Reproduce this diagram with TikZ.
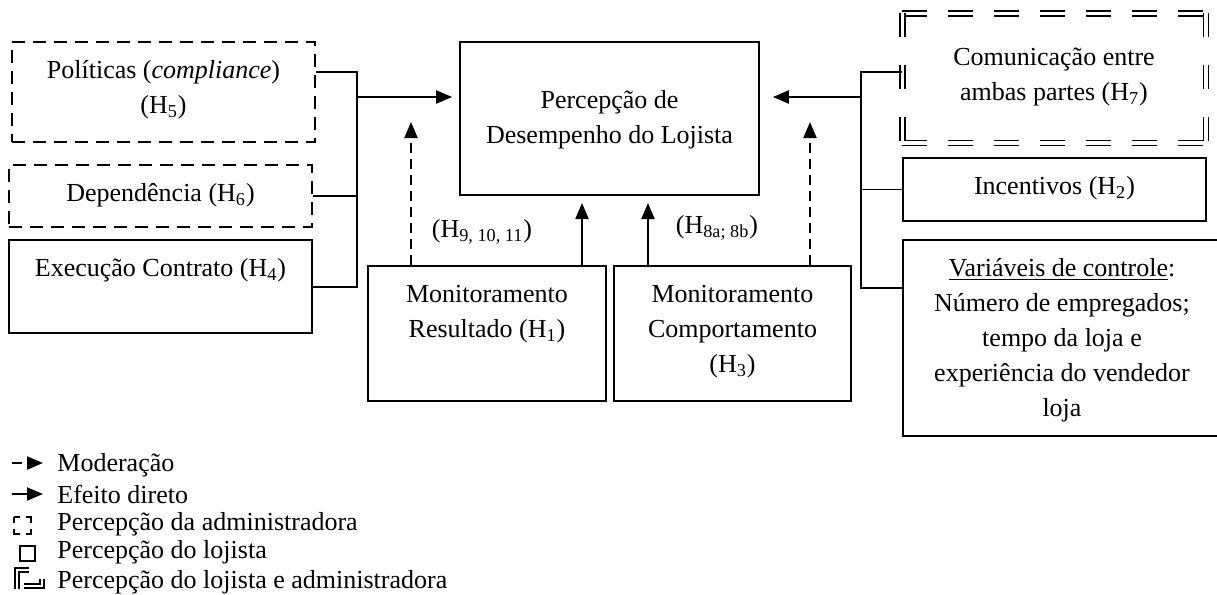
\documentclass[tikz,border=0pt]{standalone}
\usepackage{fontspec}
\setmainfont{Liberation Serif}
\usetikzlibrary{positioning, arrows.meta, fit}

\begin{document}
\begin{tikzpicture}[
    x=0.5pt, y=-0.5pt,
    font=\fontsize{13}{17.5}\selectfont,
    box/.style={rectangle, draw, line width=0.8pt, inner sep=0pt, align=center},
    admbox/.style={box, dash pattern=on 6.5pt off 4pt},
    bothline/.style={double, double distance=1.7pt, line width=0.8pt},
    toptext/.style={anchor=north, align=center, inner sep=0pt, yshift=-6.25pt},
    arrow/.style={-{Triangle[length=8pt, width=6.5pt]}, line width=1pt},
    modarrow/.style={arrow, dash pattern=on 5pt off 3pt},
    link/.style={line width=0.75pt},
    legend/.style={anchor=base west, inner sep=0pt}
]
\useasboundingbox (0,0) rectangle (1217,595);

\node[admbox, fit={(12,42) (315,142)}, label={[toptext]north:{\strut Políticas (\textit{compliance})\\(H\textsubscript{5})}}] (pol) {};
\node[admbox, fit={(9,165) (312,227)}, label={[toptext]north:{\strut Dependência (H\textsubscript{6})}}] (dep) {};
\node[box, fit={(9,240) (312,333)}, label={[toptext]north:{\strut Execução Contrato (H\textsubscript{4})}}] (exe) {};
\node[box, fit={(460,42) (759,195)}, label={[toptext, yshift=-15pt]north:{\strut Percepção de\\Desempenho do Lojista}}] (perc) {};
\node[box, fit={(368,266) (606,401)}, label={[toptext]north:{\strut Monitoramento\\Resultado (H\textsubscript{1})}}] (res) {};
\node[box, fit={(614,266) (851,401)}, label={[toptext]north:{\strut Monitoramento\\Comportamento\\(H\textsubscript{3})}}] (comp) {};
\node[box, draw=none, fit={(903,14) (1205,142)}, label={[toptext, yshift=-7.5pt]north:{\strut Comunicação entre\\ambas partes (H\textsubscript{7})}}] (com) {};
\node[box, fit={(903,158) (1206,221)}, label={[toptext]north:{\strut Incentivos (H\textsubscript{2})}}] (inc) {};
\node[box, fit={(903,240) (1221,436)}, label={[toptext]north:{\strut\underline{Variáveis de controle}:\\Número de empregados;\\tempo da loja e\\experiência do vendedor\\loja}}] (ctrl) {};

\draw[bothline, dash pattern=on 12.5pt off 10.5pt] (com.north west) -- (com.north east);
\draw[bothline, dash pattern=on 12.5pt off 10.5pt] (com.south west) -- (com.south east);
\draw[bothline, dash pattern=on 12pt off 14pt] (com.north west) -- (com.south west);
\draw[bothline, dash pattern=on 12pt off 14pt] (com.north east) -- (com.south east);

\node (h9) at (482,232) {(H\textsubscript{9, 10, 11})};
\node (h8) at (717,228) {(H\textsubscript{8a; 8b})};

\coordinate (lbt) at (357,72);
\coordinate (lbb) at (357,287);
\coordinate (lin) at (357,97);
\coordinate (rbt) at (861,72);
\coordinate (rbb) at (861,288);
\coordinate (rin) at (861,97);
\coordinate (ml) at (411,122);
\coordinate (mr) at (810,122);
\coordinate (dl) at (582,203);
\coordinate (dr) at (648,203);

\draw[link] (pol.east |- lbt) -- (lbt) -- (lbb) -- (exe.east |- lbb);
\draw[link] (dep.east) -- (dep.east -| lbt);
\draw[arrow, shorten >=3.5pt] (lin) -- (lin -| perc.west);
\draw[link] (com.west |- rbt) -- (rbt) -- (rbb) -- (ctrl.west |- rbb);
\draw[link] (inc.west) -- (inc.west -| rbt);
\draw[arrow, shorten >=6.5pt] (rin) -- (rin -| perc.east);
\draw[modarrow] (ml |- res.north) -- (ml);
\draw[modarrow] (mr |- comp.north) -- (mr);
\draw[arrow] (dl |- res.north) -- (dl);
\draw[arrow] (dr |- comp.north) -- (dr);

\node[legend] (leg1) at (57,471) {Moderação};
\node[legend] (leg2) at (57,503) {Efeito direto};
\node[legend] (leg3) at (57,530) {Percepção da administradora};
\node[legend] (leg4) at (57,558) {Percepção do lojista};
\node[legend] (leg5) at (57,588) {Percepção do lojista e administradora};

\draw[modarrow] (12,463) -- (43,463);
\draw[arrow] (12,494) -- (43,494);
\draw[line width=0.8pt, dash pattern=on 5.5pt off 3pt, dash phase=2.75pt] (14,517) rectangle (31,534);
\draw[line width=0.8pt] (20,546) rectangle (35,561);
\draw[line width=0.7pt, double, double distance=1.2pt] (17,589) -- (17,570) -- (29,570);
\draw[line width=0.7pt, double, double distance=1.2pt] (24,586) -- (42,586) -- (42,579);
\end{tikzpicture}
\end{document}
